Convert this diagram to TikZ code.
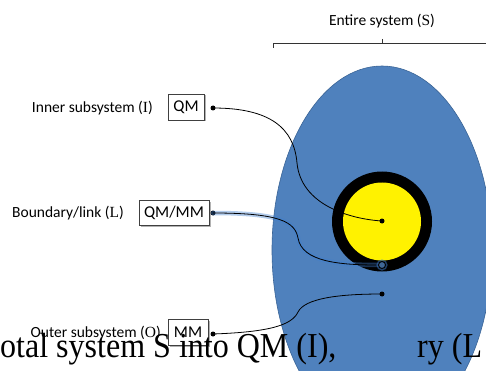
\documentclass[tikz,border=0pt]{standalone}
\usepackage{fontspec}
\setmainfont{Carlito}
\newfontfamily\tms{Liberation Serif}
\usetikzlibrary{shadows}
\definecolor{ellblue}{HTML}{4F81BD}
\definecolor{elledge}{HTML}{3A6496}
\definecolor{glowblue}{HTML}{3F7FD0}
\begin{document}
\begin{tikzpicture}[x=1pt,y=-1pt,
  font=\fontsize{15.5}{18}\selectfont,
  box/.style={draw=black!75, fill=white, line width=0.6pt, inner sep=0pt,
    font=\fontsize{16.5}{18}\selectfont,
    drop shadow={shadow xshift=1.5pt, shadow yshift=-1.5pt, opacity=0.3, fill=black}},
  dot/.style={circle, fill=black, inner sep=0pt, minimum size=5pt},
  lbl/.style={anchor=east, inner sep=0pt},
  conn/.style={draw=black, line width=0.8pt},
  glow/.style={draw=glowblue, line width=4.5pt, opacity=0.4, line cap=round},
  captext/.style={anchor=base west, inner sep=0pt, xscale=0.915, font=\tms\fontsize{35}{35}\selectfont}]
\useasboundingbox (0,0) rectangle (486,371);
\clip (0,0) rectangle (486,371);

% bracket and title
\node[inner sep=0pt] (title) at (382,21) {Entire system ({\tms S})};
\coordinate (bl) at (273,48);
\coordinate (bm) at (382,39);
\coordinate (br) at (492,48);
\draw[black!80, line width=0.6pt] (bl) -- (273,43.5) -- (492,43.5) -- (br);
\draw[black!80, line width=0.6pt] (bm) -- (382,43.5);

% entire system
\draw[fill=ellblue, draw=elledge, line width=0.6pt] (382,250) ellipse [x radius=110pt, y radius=184pt];
\fill[black] (382,221.5) circle [radius=50pt];
\fill[yellow] (382,221.5) circle [radius=39pt];

% labels and boxes
\node[lbl] (li) at (153,108) {Inner subsystem ({\tms I})};
\node[box, minimum width=36pt, minimum height=26pt] (bqm) at (186,107) {QM};
\node[lbl] (ll) at (124,213) {Boundary/link ({\tms L})};
\node[box, minimum width=70pt, minimum height=25pt] (bqmmm) at (174,212.5) {QM/MM};
\node[lbl] (lo) at (161,333) {Outer subsystem ({\tms O})};
\node[box, minimum width=40pt, minimum height=26pt] (bmm) at (188,332) {MM};

% dots
\node[dot] (dqm) at (213,108) {};
\node[dot] (dqmmm) at (213,213) {};
\node[dot] (dmm) at (213,334) {};
\node[dot] (pin) at (382,221) {};
\node[dot] (pout) at (382,294) {};
\node[circle, inner sep=0pt, minimum size=7pt] (pbd) at (382,265) {};

% connectors
\draw[conn] (dqm.center) .. controls (270,108) and (294,128) .. (297,163)
  .. controls (301,205) and (350,219) .. (pin.center);
\draw[glow] (dqmmm.center) .. controls (280,213) and (295,222) .. (298,238)
  .. controls (302,262) and (340,265) .. (pbd.west);
\draw[conn] (dqmmm.center) .. controls (280,213) and (295,222) .. (298,238)
  .. controls (302,262) and (340,265) .. (pbd.west);
\draw[glowblue, line width=3pt, opacity=0.5] (pbd) circle [radius=4pt];
\draw[black, fill=ellblue!80!black, line width=0.9pt] (pbd) circle [radius=3.5pt];
\draw[conn] (dmm.center) .. controls (270,332) and (292,325) .. (298,312)
  .. controls (305,298) and (340,294) .. (pout.center);

% caption fragments
\node[captext] (c1) at (0,357) {otal system S into QM (I),};
\node[captext] (c2) at (417,357) {ry (L};
\end{tikzpicture}
\end{document}
